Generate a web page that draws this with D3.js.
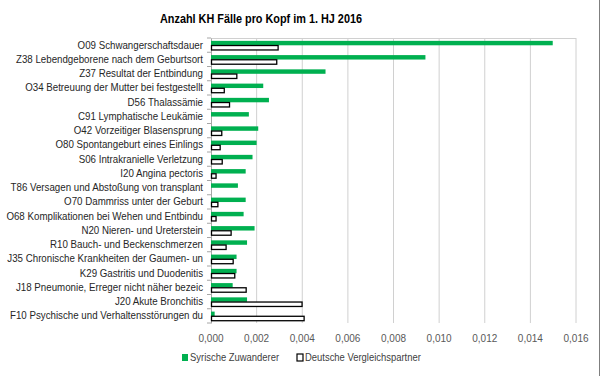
<!DOCTYPE html>
<html>
<head>
<meta charset="utf-8">
<script src="https://cdn.jsdelivr.net/npm/d3@7"></script>
<style>
  body { margin: 0; background: #fff; }
  svg { display: block; font-family: "Liberation Sans", Arial, sans-serif; }
</style>
</head>
<body>
<svg></svg>
<script>
const svgWidth = 600
const svgHeight = 376
const margins = { top: 38, bottom: 53, left: 211, right: 24 }
const plotWidth = svgWidth - margins.left - margins.right
const plotHeight = svgHeight - margins.top - margins.bottom

const categories = [
  "O09 Schwangerschaftsdauer",
  "Z38 Lebendgeborene nach dem Geburtsort",
  "Z37 Resultat der Entbindung",
  "O34 Betreuung der Mutter bei festgestellt",
  "D56 Thalassämie",
  "C91 Lymphatische Leukämie",
  "O42 Vorzeitiger Blasensprung",
  "O80 Spontangeburt eines Einlings",
  "S06 Intrakranielle Verletzung",
  "I20 Angina pectoris",
  "T86 Versagen und Abstoßung von transplant",
  "O70 Dammriss unter der Geburt",
  "O68 Komplikationen bei Wehen und Entbindu",
  "N20 Nieren- und Ureterstein",
  "R10 Bauch- und Beckenschmerzen",
  "J35 Chronische Krankheiten der Gaumen- un",
  "K29 Gastritis und Duodenitis",
  "J18 Pneumonie, Erreger nicht näher bezeic",
  "J20 Akute Bronchitis",
  "F10 Psychische und Verhaltensstörungen du"
]
const syrer = [0.01498, 0.0094, 0.00502, 0.00229, 0.00254, 0.00166, 0.00207, 0.00200,
  0.00182, 0.00152, 0.00118, 0.00152, 0.00143, 0.00191, 0.00158, 0.00112, 0.00112,
  0.00095, 0.00158, 0.00016]
const deutsche = [0.00292, 0.00286, 0.00111, 0.00056, 0.00079, 0, 0.00045, 0.00038,
  0.00047, 0.0002, 0, 0.00028, 0.0002, 0.00086, 0.00064, 0.00095, 0.00102,
  0.00152, 0.00397, 0.00406]
const seriesNames = ["Syrische Zuwanderer", "Deutsche Vergleichspartner"]
const xTicks = [0, 0.002, 0.004, 0.006, 0.008, 0.010, 0.012, 0.014, 0.016]

const svg = d3.select("svg")
  .attr("width", svgWidth)
  .attr("height", svgHeight)

svg.append("text")
  .text("Anzahl KH Fälle pro Kopf im 1. HJ 2016")
  .attr("x", 261)
  .attr("y", 23)
  .attr("text-anchor", "middle")
  .attr("font-size", 13)
  .attr("font-weight", "bold")
  .attr("fill", "#000")
  .attr("textLength", 202)
  .attr("lengthAdjust", "spacingAndGlyphs")

const xScale = d3.scaleLinear()
  .domain([0, 0.016])
  .range([0, plotWidth])
const yScale = d3.scaleBand()
  .domain(categories)
  .range([0, plotHeight])
const subScale = d3.scaleBand()
  .domain(seriesNames)
  .range([yScale.bandwidth() * 0.2, yScale.bandwidth() * 0.84])
  .paddingInner(0.05)

const plot = svg.append("g")
  .attr("transform", `translate(${margins.left},${margins.top})`)

// gridlines
plot.selectAll(".grid")
  .data(xTicks.slice(1))
  .enter()
  .append("line")
  .attr("x1", d => xScale(d))
  .attr("x2", d => xScale(d))
  .attr("y1", 0)
  .attr("y2", plotHeight)
  .attr("stroke", "#d0d0d0")
  .attr("stroke-width", 1)

plot.append("line")
  .attr("x1", 0).attr("x2", plotWidth)
  .attr("y1", 0.5).attr("y2", 0.5)
  .attr("stroke", "#d0d0d0")

// x tick labels
plot.selectAll(".xlabel")
  .data(xTicks)
  .enter()
  .append("text")
  .attr("x", d => xScale(d))
  .attr("y", plotHeight + 19)
  .attr("text-anchor", "middle")
  .attr("font-size", 10)
  .attr("fill", "#595959")
  .text(d => d3.format(".3f")(d).replace(".", ","))

// y axis, labels squeezed a bit to look like the narrow original font
const labelScale = 0.885
const yAxis = plot.append("g")
  .call(d3.axisLeft(yScale).tickSize(0))
yAxis.select(".domain").attr("stroke", "#a6a6a6")
yAxis.selectAll("text")
  .attr("x", -8 / labelScale)
  .attr("transform", `scale(${labelScale},1)`)
  .attr("font-size", 11)
  .attr("fill", "#262626")
  .attr("font-family", "Liberation Sans, Arial, sans-serif")
plot.selectAll(".ytick")
  .data(d3.range(categories.length + 1))
  .enter()
  .append("line")
  .attr("x1", -4).attr("x2", 0)
  .attr("y1", i => i * yScale.step())
  .attr("y2", i => i * yScale.step())
  .attr("stroke", "#a6a6a6")

// bars
plot.selectAll(".bar-syr")
  .data(syrer)
  .enter()
  .append("rect")
  .attr("x", 0)
  .attr("y", (d, i) => yScale(categories[i]) + subScale(seriesNames[0]))
  .attr("width", d => xScale(d))
  .attr("height", subScale.bandwidth())
  .attr("fill", "#00b050")

plot.selectAll(".bar-de")
  .data(deutsche.map((v, i) => ({ v, cat: categories[i] })).filter(d => d.v > 0))
  .enter()
  .append("rect")
  .attr("x", 0.5)
  .attr("y", d => yScale(d.cat) + subScale(seriesNames[1]))
  .attr("width", d => xScale(d.v))
  .attr("height", subScale.bandwidth())
  .attr("fill", "#fff")
  .attr("stroke", "#000")
  .attr("stroke-width", 1.3)

// legend
const legend = svg.append("g")
  .attr("transform", "translate(182,361)")
const legendX = [0, 115]
seriesNames.forEach((name, i) => {
  legend.append("rect")
    .attr("x", legendX[i])
    .attr("y", -7)
    .attr("width", 6)
    .attr("height", 7)
    .attr("fill", i === 0 ? "#00b050" : "#fff")
    .attr("stroke", i === 0 ? "none" : "#000")
    .attr("stroke-width", 1.2)
  legend.append("text")
    .attr("x", legendX[i] + 8)
    .attr("y", 0)
    .attr("font-size", 10.5)
    .attr("fill", "#404040")
    .attr("transform", `translate(${(legendX[i] + 8) * 0.1},0) scale(0.9,1)`)
    .text(name)
})

// right edge frame
svg.append("line")
  .attr("x1", 599.5).attr("x2", 599.5)
  .attr("y1", 0).attr("y2", svgHeight)
  .attr("stroke", "#7f7f7f")
</script>
</body>
</html>
